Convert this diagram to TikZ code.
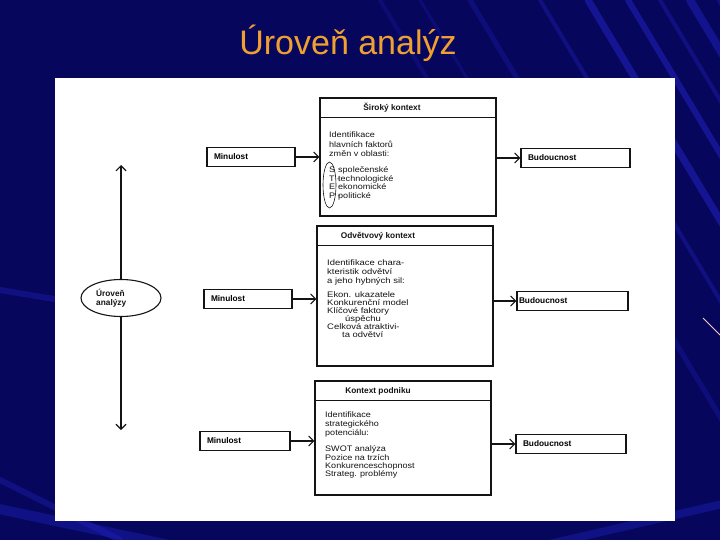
\documentclass[tikz,border=0pt]{standalone}
\usepackage{fontspec}
\setmainfont{Liberation Sans}
\newfontfamily\scanfont[FakeStretch=1.13]{Liberation Sans}
\newfontfamily\scanwidefont[FakeStretch=1.18]{Liberation Sans}
\usetikzlibrary{arrows.meta,shapes.geometric}
\definecolor{bgblue}{RGB}{6,6,92}
\definecolor{streak}{RGB}{40,40,215}
\definecolor{titleorange}{RGB}{240,160,48}
\definecolor{ink}{RGB}{20,20,20}
\newcommand\bodyfont{\scanfont\fontsize{8}{8.6}\selectfont\lineskiplimit=-20pt\lineskip=0pt}
\newcommand\widebodyfont{\scanwidefont\fontsize{8}{8.6}\selectfont\lineskiplimit=-20pt\lineskip=0pt}
\newcommand\headfont{\bfseries\fontsize{8.3}{9}\selectfont}
\begin{document}
\begin{tikzpicture}[x=1pt,y=-1pt,
  frame/.style={draw=ink,line width=1.1pt,inner sep=0pt},
  endbox/.style={draw=ink,line width=1.1pt,minimum height=19pt,inner xsep=7pt,inner ysep=0pt,font=\headfont,align=left},
  conn/.style={draw=ink,line width=1.1pt,-{Straight Barb[length=5pt,width=10pt,line width=1.1pt]}},
  body/.style={anchor=north west,align=left,inner sep=0pt,font=\bodyfont,text=ink},
  head/.style={font=\headfont,text=ink,inner sep=0pt},
  ray/.style={streak,line cap=round}]
\useasboundingbox (0,0) rectangle (720,540);
% background
\fill[bgblue] (0,0) rectangle (720,540);
\begin{scope}
\clip (0,0) rectangle (720,540);
\foreach \sx/\w/\o in {470/5/0.25,540/4/0.3,588/7/0.45,628/6/0.45,660/4/0.3,690/8/0.4,720/6/0.35}
  \draw[ray,line width=\w pt,opacity=\o] (\sx,0) -- ++(336,560);
\foreach \sx/\w/\o in {380/4/0.2,420/3/0.2}
  \draw[ray,line width=\w pt,opacity=\o] (\sx,0) -- ++(60,100);
\draw[ray,line width=10pt,opacity=0.35] (-20,505) -- (240,560);
\draw[ray,line width=6pt,opacity=0.3] (-20,470) -- (120,540);
\draw[ray,line width=8pt,opacity=0.35] (480,560) -- (740,500);
\draw[ray,line width=6pt,opacity=0.3] (0,290) -- (60,300);
\draw[pink!80!white,line width=0.8pt] (703,318) -- (720,335);
\end{scope}
% title
\node[font=\fontsize{34}{40}\selectfont,text=titleorange] (title) at (348,43) {Úroveň analýz};
% white panel
\fill[white] (55,78) rectangle (675,521);

% left level axis
\node[draw=ink,line width=1.1pt,ellipse,minimum width=80pt,minimum height=37pt,inner sep=0pt] (lvl) at (121,298) {};
\node[font=\headfont,align=left,anchor=west,inner sep=0pt,text=ink] (lvltext) at (96,298) {Úroveň\\analýzy};
\coordinate (vtop) at (121,165);
\coordinate (vbot) at (121,430);
\draw[conn] (lvl.north) -- (vtop);
\draw[conn] (lvl.south) -- (vbot);

% top box
\node[frame,minimum width=176pt,minimum height=118pt] (ctxA) at (408,157) {};
\draw[ink,line width=1.1pt] ([yshift=-20pt]ctxA.north west) -- ([yshift=-20pt]ctxA.north east);
\node[head] (hA) at (392,108) {Široký kontext};
\node[body] (bA) at (329,131.5) {Identifikace\\[1pt]hlavních faktorů\\[1pt]změn v oblasti:\\[7.4pt]
\makebox[9pt][l]{S}společenské\\\makebox[9pt][l]{T -}technologické\\\makebox[9pt][l]{E}ekonomické\\\makebox[9pt][l]{P -}politické};
\node[draw=ink,line width=0.6pt,ellipse,minimum width=13pt,minimum height=46pt,inner sep=0pt] (stepoval) at (329.5,185) {};

% middle box
\node[frame,minimum width=176pt,minimum height=140pt] (ctxB) at (405,296) {};
\draw[ink,line width=1.1pt] ([yshift=-20pt]ctxB.north west) -- ([yshift=-20pt]ctxB.north east);
\node[head] (hB) at (378,236) {Odvětvový kontext};
\node[body,font=\widebodyfont] (bB) at (327,260) {Identifikace chara-\\kteristik odvětví\\a jeho hybných sil:\\[6.2pt]
Ekon. ukazatele\\[-0.6pt]Konkurenční model\\[-0.6pt]Klíčové faktory\\[-0.6pt]\hspace*{18pt}úspěchu\\[-0.6pt]Celková atraktivi-\\[-0.6pt]\hspace*{15pt}ta odvětví};

% bottom box
\node[frame,minimum width=176pt,minimum height=114pt] (ctxC) at (403,438) {};
\draw[ink,line width=1.1pt] ([yshift=-20pt]ctxC.north west) -- ([yshift=-20pt]ctxC.north east);
\node[head] (hC) at (378,391) {Kontext podniku};
\node[body] (bC) at (325,412) {Identifikace\\[0.4pt]strategického\\[0.4pt]potenciálu:\\[7.4pt]
SWOT analýza\\[-0.3pt]Pozice na trzích\\[-0.3pt]Konkurenceschopnost\\[-0.3pt]Strateg. problémy};

% past boxes
\node[endbox,text width=74pt] (pastA) at (251,157) {Minulost};
\node[endbox,text width=74pt] (pastB) at (248,299) {Minulost};
\node[endbox,text width=76pt] (pastC) at (245,441) {Minulost};
% future boxes
\node[endbox,text width=95pt] (futA) at (575.5,158) {Budoucnost};
\node[endbox,text width=107pt,inner xsep=2pt] (futB) at (572.5,301) {Budoucnost};
\node[endbox,text width=96pt] (futC) at (571,444) {Budoucnost};

% connectors
\draw[conn] (pastA.east) -- (pastA.east -| ctxA.west);
\draw[conn] (pastB.east) -- (pastB.east -| ctxB.west);
\draw[conn] (pastC.east) -- (pastC.east -| ctxC.west);
\draw[conn] (ctxA.east |- futA.west) -- (futA.west);
\draw[conn] (ctxB.east |- futB.west) -- (futB.west);
\draw[conn] (ctxC.east |- futC.west) -- (futC.west);
\end{tikzpicture}
\end{document}
